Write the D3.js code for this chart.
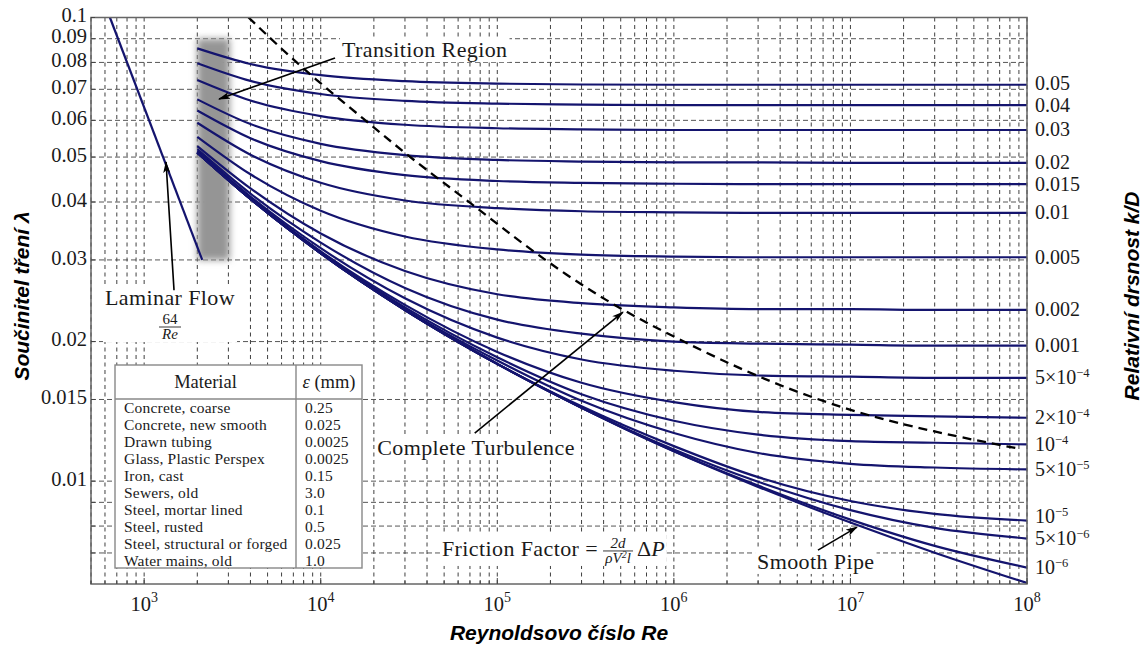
<!DOCTYPE html>
<html lang="cs">
<head>
<meta charset="UTF-8">
<title>Moodyho diagram</title>
<script src="https://d3js.org/d3.v7.min.js"></script>
<style>
  body { margin: 0; background: #fff; }
  .grid line { stroke: #2a2a2a; stroke-width: 0.9; stroke-dasharray: 4,3.5; }
  .serif { font-family: "Liberation Serif", "DejaVu Serif", serif; fill: #1a1a1a; }
  .title { font-family: "Liberation Sans", Arial, sans-serif; font-weight: bold; font-style: italic; font-size: 21px; fill: #000; }
  .curve { fill: none; stroke: #14146e; stroke-width: 2.2; }
</style>
</head>
<body>
<script>
// Reynolds numbers where the turbulent curves were read
const reynolds = [2e3, 4e3, 1e4, 3e4, 1e5, 3e5, 1e6, 3e6, 1e7, 3e7, 1e8];

// relative roughness k/D, label text (null = smooth pipe)
const roughnessLabels = ["0.05", "0.04", "0.03", "0.02", "0.015", "0.01", "0.005", "0.002", "0.001",
  "5×10^−4", "2×10^−4", "10^−4", "5×10^−5", "10^−5", "5×10^−6", "10^−6", null];

// friction factor per roughness, one value per reynolds entry
const friction = [
  [0.0858, 0.0794, 0.0751, 0.0729, 0.0720, 0.0717, 0.0716, 0.0716, 0.0716, 0.0716, 0.0716],
  [0.0797, 0.0730, 0.0684, 0.0661, 0.0652, 0.0649, 0.0647, 0.0647, 0.0647, 0.0647, 0.0647],
  [0.0733, 0.0662, 0.0613, 0.0587, 0.0577, 0.0574, 0.0572, 0.0572, 0.0572, 0.0572, 0.0572],
  [0.0666, 0.0589, 0.0534, 0.0505, 0.0493, 0.0489, 0.0487, 0.0487, 0.0486, 0.0486, 0.0486],
  [0.0630, 0.0549, 0.0490, 0.0457, 0.0444, 0.0440, 0.0438, 0.0437, 0.0437, 0.0437, 0.0437],
  [0.0593, 0.0506, 0.0440, 0.0403, 0.0388, 0.0382, 0.0380, 0.0379, 0.0379, 0.0379, 0.0379],
  [0.0553, 0.0459, 0.0383, 0.0337, 0.0316, 0.0308, 0.0305, 0.0304, 0.0304, 0.0304, 0.0304],
  [0.0528, 0.0428, 0.0342, 0.0284, 0.0253, 0.0242, 0.0237, 0.0235, 0.0235, 0.0234, 0.0234],
  [0.0520, 0.0417, 0.0327, 0.0261, 0.0223, 0.0208, 0.0200, 0.0198, 0.0197, 0.0196, 0.0196],
  [0.0515, 0.0411, 0.0318, 0.0248, 0.0204, 0.0183, 0.0173, 0.0169, 0.0168, 0.0167, 0.0167],
  [0.0513, 0.0408, 0.0313, 0.0240, 0.0190, 0.0163, 0.0148, 0.0141, 0.0139, 0.0138, 0.0137],
  [0.0512, 0.0407, 0.0312, 0.0237, 0.0185, 0.0154, 0.0135, 0.0126, 0.0122, 0.0121, 0.0120],
  [0.0511, 0.0406, 0.0311, 0.0235, 0.0182, 0.0149, 0.0127, 0.0115, 0.0109, 0.0107, 0.0106],
  [0.0511, 0.0406, 0.0310, 0.0234, 0.0179, 0.0145, 0.0119, 0.0102, 0.00906, 0.00850, 0.00822],
  [0.0511, 0.0406, 0.0310, 0.0234, 0.0179, 0.0144, 0.0117, 0.00997, 0.00866, 0.00793, 0.00752],
  [0.0511, 0.0406, 0.0310, 0.0234, 0.0179, 0.0144, 0.0116, 0.00978, 0.00826, 0.00725, 0.00651],
  [0.0511, 0.0406, 0.0310, 0.0234, 0.0179, 0.0144, 0.0116, 0.00972, 0.00814, 0.00701, 0.00603]
];

// laminar flow 64/Re
const laminarRe = [640, 2133];
const laminarF = [0.1, 0.03];

// complete turbulence boundary (dashed)
const boundaryRe = [3900, 7990, 18270, 32150, 70310, 160600, 418300, 1.042e6, 2.96e6, 9.58e6, 2.965e7, 8.99e7];
const boundaryF = [0.1, 0.0771, 0.0597, 0.0498, 0.0399, 0.0311, 0.0243, 0.0203, 0.01675, 0.0142, 0.01276, 0.01175];

// transition band
const transitionRe = [2000, 3050];
const transitionF = [0.03, 0.09];

const yTickLabels = [0.1, 0.09, 0.08, 0.07, 0.06, 0.05, 0.04, 0.03, 0.02, 0.015, 0.01];
const yMinorTicks = [0.009, 0.008, 0.007];
const xMajorTicks = [1e3, 1e4, 1e5, 1e6, 1e7, 1e8];

const materials = ["Concrete, coarse", "Concrete, new smooth", "Drawn tubing", "Glass, Plastic Perspex",
  "Iron, cast", "Sewers, old", "Steel, mortar lined", "Steel, rusted", "Steel, structural or forged", "Water mains, old"];
const epsilons = ["0.25", "0.025", "0.0025", "0.0025", "0.15", "3.0", "0.1", "0.5", "0.025", "1.0"];

const width = 1143, height = 652;
const pLeft = 91, pRight = 1027, pTop = 17.5, pBottom = 584;

const x = d3.scaleLog().domain([500, 1e8]).range([pLeft, pRight]);
const y = d3.scaleLog().domain([0.006, 0.1]).range([pBottom, pTop]);

const svg = d3.select("body").append("svg")
  .attr("width", width).attr("height", height);

const defs = svg.append("defs");
defs.append("clipPath").attr("id", "plot")
  .append("rect").attr("x", pLeft).attr("y", pTop).attr("width", pRight - pLeft).attr("height", pBottom - pTop);
defs.append("filter").attr("id", "blur").attr("x", "-50%").attr("y", "-20%").attr("width", "200%").attr("height", "140%")
  .append("feGaussianBlur").attr("stdDeviation", 3.5);
defs.append("marker").attr("id", "arrow")
  .attr("viewBox", "0 0 12 8").attr("refX", 11).attr("refY", 4)
  .attr("markerWidth", 12).attr("markerHeight", 8).attr("markerUnits", "userSpaceOnUse")
  .attr("orient", "auto")
  .append("path").attr("d", "M0,0.5 L12,4 L0,7.5 L3,4 Z").attr("fill", "#000");

// grid
const grid = svg.append("g").attr("class", "grid");
grid.selectAll(".vx").data(x.ticks()).join("line")
  .attr("x1", d => x(d)).attr("x2", d => x(d)).attr("y1", pTop).attr("y2", pBottom);
grid.selectAll(".hy").data(yTickLabels.concat(yMinorTicks)).join("line")
  .attr("x1", pLeft).attr("x2", pRight).attr("y1", d => y(d)).attr("y2", d => y(d))
  .style("stroke", "#444").style("stroke-dasharray", "5,3");

const plot = svg.append("g").attr("clip-path", "url(#plot)");

// transition region band
plot.append("rect")
  .attr("x", x(transitionRe[0])).attr("width", x(transitionRe[1]) - x(transitionRe[0]))
  .attr("y", y(transitionF[1])).attr("height", y(transitionF[0]) - y(transitionF[1]))
  .attr("fill", "#959595").attr("filter", "url(#blur)");

const line = d3.line().curve(d3.curveMonotoneX);

plot.selectAll(".curve").data(friction).join("path")
  .attr("class", "curve")
  .attr("d", f => line(reynolds.map((re, i) => [x(re), y(f[i])])));

plot.append("path").attr("class", "curve")
  .attr("d", line(laminarRe.map((re, i) => [x(re), y(laminarF[i])])));

plot.append("path")
  .attr("d", d3.line().curve(d3.curveBasis)(boundaryRe.map((re, i) => [x(re), y(boundaryF[i])])))
  .attr("fill", "none").attr("stroke", "#000").attr("stroke-width", 2.3).attr("stroke-dasharray", "9,6");

// material table
const tb = svg.append("g");
const tx = 115, ty = 365, tw = 247, th = 203, tcol = 296;
tb.append("rect").attr("x", tx).attr("y", ty).attr("width", tw).attr("height", th)
  .attr("fill", "#fff").attr("stroke", "#888").attr("stroke-width", 1.4);
tb.append("line").attr("x1", tx).attr("x2", tx + tw).attr("y1", 399).attr("y2", 399).attr("stroke", "#888").attr("stroke-width", 1.4);
tb.append("line").attr("x1", tcol).attr("x2", tcol).attr("y1", ty).attr("y2", ty + th).attr("stroke", "#888").attr("stroke-width", 1.4);
tb.append("text").attr("class", "serif").attr("x", (tx + tcol) / 2).attr("y", 388)
  .attr("text-anchor", "middle").style("font-size", "18.5px").text("Material");
const eh = tb.append("text").attr("class", "serif").attr("x", (tcol + tx + tw) / 2).attr("y", 388)
  .attr("text-anchor", "middle").style("font-size", "18.5px");
eh.append("tspan").style("font-style", "italic").text("ε");
eh.append("tspan").text(" (mm)");
tb.selectAll(".mat").data(materials).join("text")
  .attr("class", "serif").attr("x", 124).attr("y", (d, i) => 412.5 + i * 17)
  .style("font-size", "15.5px").style("letter-spacing", "0.2px").text(d => d);
tb.selectAll(".eps").data(epsilons).join("text")
  .attr("class", "serif").attr("x", 305).attr("y", (d, i) => 412.5 + i * 17)
  .style("font-size", "15.5px").style("letter-spacing", "0.2px").text(d => d);

// annotations
function boxedText(px, py, build) {
  const g = svg.append("g");
  const bg = g.append("rect").attr("fill", "#fff");
  const t = g.append("text").attr("class", "serif").attr("x", px).attr("y", py)
    .attr("dominant-baseline", "middle").style("font-size", "22px").style("letter-spacing", "0.4px");
  build(t, g);
  const b = g.node().getBBox();
  bg.attr("x", b.x - 2).attr("y", b.y).attr("width", b.width + 4).attr("height", b.height);
  return t;
}
function arrow(re1, f1, re2, f2) {
  svg.append("line").attr("x1", x(re1)).attr("y1", y(f1)).attr("x2", x(re2)).attr("y2", y(f2))
    .attr("stroke", "#000").attr("stroke-width", 1.6).attr("marker-end", "url(#arrow)");
}

boxedText(x(13200), y(0.0842), t => t.text("Transition Region"));
arrow(12050, 0.0818, 2654, 0.0667);

boxedText(x(1401), y(0.0246), (t, g) => {
  t.attr("text-anchor", "middle").text("Laminar Flow");
  const cx = x(1401), cy = y(0.0215);
  g.append("text").attr("class", "serif").attr("x", cx).attr("y", cy - 3)
    .attr("text-anchor", "middle").style("font-size", "15px").text("64");
  g.append("line").attr("x1", cx - 11).attr("x2", cx + 11).attr("y1", cy).attr("y2", cy)
    .attr("stroke", "#222").attr("stroke-width", 0.9);
  g.append("text").attr("class", "serif").attr("x", cx).attr("y", cy + 12)
    .attr("text-anchor", "middle").style("font-size", "15px").style("font-style", "italic").text("Re");
});
arrow(1476, 0.0258, 1330, 0.0488);

boxedText(x(75750), y(0.01167), t => t.attr("text-anchor", "middle").text("Complete Turbulence"));
arrow(74500, 0.0127, 515000, 0.02316);

boxedText(x(48600), y(0.00707), (t, g) => {
  t.text("Friction Factor =");
  const tend = t.node().getComputedTextLength();
  const cx = x(48600) + tend + 20, cy = y(0.00707);
  g.append("text").attr("class", "serif").attr("x", cx).attr("y", cy - 3)
    .attr("text-anchor", "middle").style("font-size", "15px").style("font-style", "italic").text("2d");
  g.append("line").attr("x1", cx - 15).attr("x2", cx + 15).attr("y1", cy).attr("y2", cy)
    .attr("stroke", "#222").attr("stroke-width", 0.9);
  const den = g.append("text").attr("class", "serif").attr("x", cx).attr("y", cy + 12)
    .attr("text-anchor", "middle").style("font-size", "15px").style("font-style", "italic");
  den.append("tspan").text("ρV");
  den.append("tspan").attr("dy", -5).style("font-size", "10px").text("2");
  den.append("tspan").attr("dy", 5).text("l");
  const dp = g.append("text").attr("class", "serif").attr("x", cx + 19).attr("y", cy)
    .attr("dominant-baseline", "middle").style("font-size", "22px");
  dp.append("tspan").text("Δ");
  dp.append("tspan").style("font-style", "italic").text("P");
});

boxedText(x(2.96e6), y(0.00663), t => t.text("Smooth Pipe"));
arrow(6.55e6, 0.0071, 1.09e7, 0.00796);

// frame
svg.append("rect").attr("x", pLeft).attr("y", pTop).attr("width", pRight - pLeft).attr("height", pBottom - pTop)
  .attr("fill", "none").attr("stroke", "#666").attr("stroke-width", 1.5);

// ticks
svg.selectAll(".xt").data(x.ticks()).join("line")
  .attr("x1", d => x(d)).attr("x2", d => x(d))
  .attr("y1", pBottom).attr("y2", d => pBottom - (xMajorTicks.includes(d) ? 6 : 3))
  .attr("stroke", "#444");
svg.selectAll(".yt").data(yTickLabels.concat(yMinorTicks)).join("line")
  .attr("x1", pLeft).attr("x2", pLeft + 4).attr("y1", d => y(d)).attr("y2", d => y(d))
  .attr("stroke", "#444");

// y tick labels
svg.selectAll(".yl").data(yTickLabels).join("text")
  .attr("class", "serif").attr("x", pLeft - 4).attr("y", d => y(d))
  .attr("text-anchor", "end").attr("dominant-baseline", "middle")
  .style("font-size", "20.5px").text(d => String(d));

// x tick labels
svg.selectAll(".xl").data(xMajorTicks).join("text")
  .attr("class", "serif").attr("x", d => x(d)).attr("y", 611)
  .attr("text-anchor", "middle").style("font-size", "20.5px")
  .each(function(d) {
    const t = d3.select(this);
    t.append("tspan").text("10");
    t.append("tspan").attr("dy", -9).style("font-size", "14px").text(Math.round(Math.log10(d)));
  });

// roughness labels at the right edge, pushed apart where they crowd
const lastI = reynolds.length - 1;
const rLabels = friction.map((f, i) => ({ y: y(f[lastI]) + 6.5, text: roughnessLabels[i] }))
  .filter(d => d.text);
for (let i = rLabels.length - 1; i > 0; i--) {
  if (rLabels[i].y - rLabels[i - 1].y < 22) rLabels[i - 1].y = rLabels[i].y - 22;
}
svg.selectAll(".rl").data(rLabels).join("text")
  .attr("class", "serif").attr("x", pRight + 8).attr("y", d => d.y)
  .style("font-size", "20px")
  .each(function(d) {
    const t = d3.select(this);
    const parts = d.text.split("^");
    t.append("tspan").text(parts[0]);
    if (parts[1]) t.append("tspan").attr("dy", -7).style("font-size", "12.5px").text(parts[1]);
  });

// axis titles
svg.append("text").attr("class", "title").attr("x", (pLeft + pRight) / 2).attr("y", 640)
  .attr("text-anchor", "middle").text("Reynoldsovo číslo Re");
svg.append("text").attr("class", "title")
  .attr("transform", "translate(29,296) rotate(-90)")
  .attr("text-anchor", "middle").text("Součinitel tření λ");
svg.append("text").attr("class", "title")
  .attr("transform", "translate(1139,296) rotate(-90)")
  .attr("text-anchor", "middle").text("Relativní drsnost k/D");
</script>
</body>
</html>
